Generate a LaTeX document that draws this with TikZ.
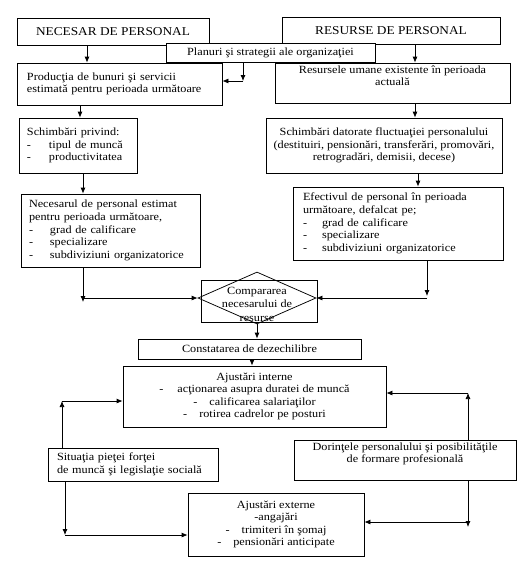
\documentclass[tikz,border=0pt]{standalone}
\usepackage{fontspec}
\setmainfont{Liberation Serif}[FakeStretch=1.11]
\usetikzlibrary{arrows.meta,shapes.geometric}
\newcommand\dsh[2]{\makebox[#1][l]{-}#2}
\begin{document}
\begin{tikzpicture}[x=1pt,y=-1pt,
  font=\fontsize{11}{12.6}\selectfont,
  bx/.style 2 args={draw, fill=white, line width=0.75pt, minimum width=#1, minimum height=#2, inner sep=0pt},
  lt/.style={align=left, text width=#1},
  ct/.style={align=center},
  arr/.style={line width=0.75pt, -{Latex[length=6pt,width=5pt]}},
  ln/.style={line width=0.75pt}]
\useasboundingbox (0,0) rectangle (529,563);

% boxes
\node[bx={192}{27}, font=\fontsize{12}{13}\selectfont] (nec) at (113,31.5) {NECESAR DE PERSONAL};
\node[bx={218}{27}, font=\fontsize{12}{13}\selectfont] (res) at (391,30.5) {RESURSE DE PERSONAL};
\node[bx={205}{42}, lt=185] (prod) at (119.5,84) {Producţia de bunuri şi servicii\\estimată pentru perioada următoare\\[3pt]};
\node[bx={235}{40}, ct] (resu) at (392.5,83) {Resursele umane existente în perioada\\actuală\\[2pt]};
\node[bx={209}{19}] (plan) at (270.5,52.5) {Planuri şi strategii ale organizaţiei};
\node[bx={118}{55}, lt=102] (sch1) at (78,145.5) {Schimbări privind:\\\dsh{22pt}{tipul de muncă}\\\dsh{22pt}{productivitatea}\\[2pt]};
\node[bx={236}{55}, ct] (sch2) at (384,145.5) {Schimbări datorate fluctuaţiei personalului\\(destituiri, pensionări, transferări, promovări,\\retrogradări, demisii, decese)};
\node[bx={179}{73}, lt=163] (necs) at (110.5,230.5) {Necesarul de personal estimat\\pentru perioada următoare,\\\dsh{21pt}{grad de calificare}\\\dsh{21pt}{specializare}\\\dsh{21pt}{subdiviziuni organizatorice}};
\node[bx={210}{73}, lt=190] (efec) at (398,223.5) {Efectivul de personal în perioada\\următoare, defalcat pe;\\\dsh{19pt}{grad de calificare}\\\dsh{19pt}{specializare}\\\dsh{19pt}{subdiviziuni organizatorice}};

% diamond
\node[draw, fill=white, line width=0.75pt, minimum width=116, minimum height=42, inner sep=0pt] (dbox) at (259,301) {};
\node[draw, diamond, line width=0.75pt, minimum width=118, minimum height=52, inner sep=0pt] (dia) at (257,298) {};
\node[ct, inner sep=0pt, font=\fontsize{11}{13.5}\selectfont] (diat) at (257,304) {Compararea\\necesarului de\\resurse};

\node[bx={223}{20}] (cons) at (249.5,349) {Constatarea de dezechilibre};
\node[bx={263}{61}, ct] (aji) at (254.5,396.5) {Ajustări interne\\-\hspace{14pt}acţionarea asupra duratei de muncă\\-\hspace{12pt}calificarea salariaţilor\\-\hspace{12pt}rotirea cadrelor pe posturi};
\node[bx={170}{33}, lt=152] (sit) at (133,464.5) {Situaţia pieţei forţei\\de muncă şi legislaţie socială};
\node[bx={222}{40}, ct] (dor) at (405,460) {Dorinţele personalului şi posibilităţile\\de formare profesională\\[2pt]};
\node[bx={176}{63}, ct] (aje) at (276,524.5) {Ajustări externe\\-angajări\\-\hspace{12pt}trimiteri în şomaj\\-\hspace{12pt}pensionări anticipate};

% helper coordinates
\coordinate (xa) at (87,0);
\coordinate (xb) at (415,0);
\coordinate (xd) at (80,0);
\coordinate (xe) at (83,0);
\coordinate (xf) at (418,0);
\coordinate (xh) at (257,0);
\coordinate (xi) at (252,0);
\coordinate (pc) at (243,81);
\coordinate (lc) at (83,302);
\coordinate (rc) at (427,296);
\coordinate (sc) at (62,401);
\coordinate (sd) at (65,535);
\coordinate (dc) at (468,393);
\coordinate (dd) at (468,527);
\coordinate (de) at (468,522);

% connectors
\draw[arr] (nec.south -| xa) -- (prod.north -| xa);
\draw[arr] (res.south -| xb) -- (resu.north -| xb);
\draw[arr] (plan.south -| pc) -- (pc);
\draw[arr] (pc) -- (prod.east |- pc);
\draw[arr] (prod.south -| xd) -- (sch1.north -| xd);
\draw[arr] (resu.south -| xb) -- (sch2.north -| xb);
\draw[arr] (sch1.south -| xe) -- (necs.north -| xe);
\draw[arr] (sch2.south -| xf) -- (efec.north -| xf);
\draw[arr] (necs.south -| lc) -- (lc);
\draw[arr] (lc |- dia.west) -- (dia.west);
\draw[arr] (efec.south -| rc) -- (rc);
\draw[arr] (rc |- dia.east) -- (dia.east);
\draw[arr] (dia.south -| xh) -- (cons.north -| xh);
\draw[arr] (cons.south -| xi) -- (aji.north -| xi);
\draw[arr] (sit.north -| sc) -- (sc);
\draw[arr] (sc) -- (aji.west |- sc);
\draw[arr] (sit.south -| sd) -- (sd);
\draw[arr] (sd) -- (aje.west |- sd);
\draw[arr] (dor.north -| dc) -- (dc);
\draw[arr] (dc) -- (aji.east |- dc);
\draw[arr] (dor.south -| dd) -- (dd);
\draw[arr] (de) -- (aje.east |- de);
\end{tikzpicture}
\end{document}
